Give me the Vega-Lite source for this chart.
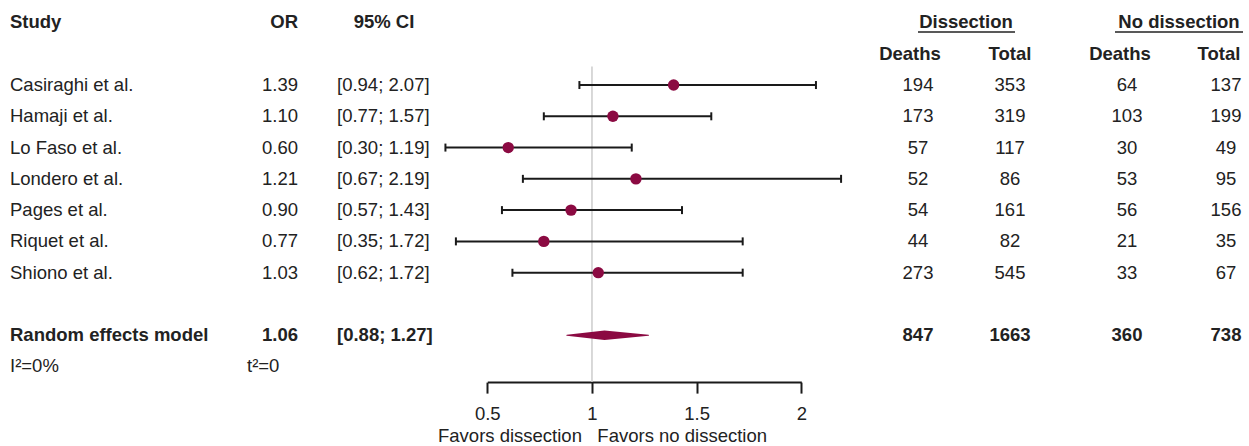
{
  "$schema": "https://vega.github.io/schema/vega-lite/v6.json",
  "width": 1249,
  "height": 382.1,
  "padding": {"left": 0, "top": 0, "right": 0, "bottom": 63.9},
  "autosize": {"type": "none"},
  "background": "white",
  "config": {
    "view": {"stroke": null},
    "text": {"font": "Liberation Sans", "fontSize": 18.5, "color": "#222222", "baseline": "middle"}
  },
  "datasets": {
    "rows": [
      {"row": "Casiraghi et al.", "kind": "study", "or": 1.39, "lo": 0.94, "hi": 2.07, "ci": "[0.94; 2.07]", "d_deaths": 194, "d_total": 353, "n_deaths": 64, "n_total": 137},
      {"row": "Hamaji et al.", "kind": "study", "or": 1.10, "lo": 0.77, "hi": 1.57, "ci": "[0.77; 1.57]", "d_deaths": 173, "d_total": 319, "n_deaths": 103, "n_total": 199},
      {"row": "Lo Faso et al.", "kind": "study", "or": 0.60, "lo": 0.30, "hi": 1.19, "ci": "[0.30; 1.19]", "d_deaths": 57, "d_total": 117, "n_deaths": 30, "n_total": 49},
      {"row": "Londero et al.", "kind": "study", "or": 1.21, "lo": 0.67, "hi": 2.19, "ci": "[0.67; 2.19]", "d_deaths": 52, "d_total": 86, "n_deaths": 53, "n_total": 95},
      {"row": "Pages et al.", "kind": "study", "or": 0.90, "lo": 0.57, "hi": 1.43, "ci": "[0.57; 1.43]", "d_deaths": 54, "d_total": 161, "n_deaths": 56, "n_total": 156},
      {"row": "Riquet et al.", "kind": "study", "or": 0.77, "lo": 0.35, "hi": 1.72, "ci": "[0.35; 1.72]", "d_deaths": 44, "d_total": 82, "n_deaths": 21, "n_total": 35},
      {"row": "Shiono et al.", "kind": "study", "or": 1.03, "lo": 0.62, "hi": 1.72, "ci": "[0.62; 1.72]", "d_deaths": 273, "d_total": 545, "n_deaths": 33, "n_total": 67},
      {"row": "Random effects model", "kind": "pooled", "or": 1.06, "lo": 0.88, "hi": 1.27, "ci": "[0.88; 1.27]", "d_deaths": 847, "d_total": 1663, "n_deaths": 360, "n_total": 738}
    ],
    "heterogeneity": [
      {"row": "heterogeneity", "i2": "I²=0%", "tau2": "t²=0"}
    ],
    "headers": [
      {"row": "h1", "column": "study", "text": "Study"},
      {"row": "h1", "column": "or", "text": "OR"},
      {"row": "h1", "column": "ci", "text": "95% CI"},
      {"row": "h1", "column": "dissection", "text": "Dissection"},
      {"row": "h1", "column": "no_dissection", "text": "No dissection"},
      {"row": "h2", "column": "dissection_deaths", "text": "Deaths"},
      {"row": "h2", "column": "dissection_total", "text": "Total"},
      {"row": "h2", "column": "no_dissection_deaths", "text": "Deaths"},
      {"row": "h2", "column": "no_dissection_total", "text": "Total"}
    ],
    "reference": [
      {"null_effect": 1}
    ]
  },
  "encoding": {
    "y": {
      "field": "row",
      "type": "nominal",
      "axis": null,
      "scale": {
        "type": "band",
        "domain": ["h1", "h2", "Casiraghi et al.", "Hamaji et al.", "Lo Faso et al.", "Londero et al.", "Pages et al.", "Riquet et al.", "Shiono et al.", "gap", "Random effects model", "heterogeneity"],
        "range": [6.865, 382.1],
        "paddingInner": 0,
        "paddingOuter": 0
      }
    }
  },
  "layer": [
    {
      "data": {"name": "reference"},
      "mark": {"type": "rule", "color": "#cccccc", "strokeWidth": 1.5},
      "encoding": {
        "x": {
          "field": "null_effect",
          "type": "quantitative",
          "scale": {"domain": [0.5, 2], "range": [487.3, 801.3], "nice": false, "zero": false},
          "axis": {
            "orient": "bottom",
            "values": [0.5, 1, 1.5, 2],
            "format": "~g",
            "labelFlush": false,
            "labelOverlap": false,
            "grid": false,
            "domainColor": "#1a1a1a",
            "domainWidth": 2,
            "tickColor": "#1a1a1a",
            "tickWidth": 2,
            "tickSize": 11,
            "labelFont": "Liberation Sans",
            "labelFontSize": 18.5,
            "labelColor": "#222222",
            "labelPadding": 11.5,
            "title": "Favors dissection\u00a0\u00a0\u00a0Favors no dissection",
            "titleFont": "Liberation Sans",
            "titleFontSize": 18.5,
            "titleFontWeight": "normal",
            "titleColor": "#222222",
            "titleAlign": "left",
            "titleAnchor": "start",
            "titleX": 437.5,
            "titleY": 53,
            "titleBaseline": "middle"
          }
        },
        "y": {"datum": "h2", "bandPosition": 0.91},
        "y2": {"datum": "heterogeneity", "bandPosition": 1}
      }
    },
    {
      "layer": [
        {
          "data": {"name": "rows"},
          "transform": [{"filter": "datum.kind === 'study'"}],
          "mark": {"type": "rule", "color": "#1a1a1a", "strokeWidth": 2},
          "encoding": {
            "x": {"field": "lo", "type": "quantitative", "scale": {"domain": [0.5, 2], "range": [487.3, 801.3], "nice": false, "zero": false}, "axis": null},
            "x2": {"field": "hi"}
          }
        },
        {
          "data": {"name": "rows"},
          "transform": [{"filter": "datum.kind === 'study'"}],
          "mark": {"type": "tick", "orient": "vertical", "size": 8, "thickness": 2, "color": "#1a1a1a", "opacity": 1},
          "encoding": {
            "x": {"field": "lo", "type": "quantitative", "axis": null}
          }
        },
        {
          "data": {"name": "rows"},
          "transform": [{"filter": "datum.kind === 'study'"}],
          "mark": {"type": "tick", "orient": "vertical", "size": 8, "thickness": 2, "color": "#1a1a1a", "opacity": 1},
          "encoding": {
            "x": {"field": "hi", "type": "quantitative", "axis": null}
          }
        },
        {
          "data": {"name": "rows"},
          "transform": [{"filter": "datum.kind === 'study'"}],
          "mark": {"type": "point", "shape": "circle", "filled": true, "size": 130, "color": "#8b0a42", "opacity": 1},
          "encoding": {
            "x": {"field": "or", "type": "quantitative", "axis": null}
          }
        },
        {
          "data": {"name": "rows"},
          "transform": [
            {"filter": "datum.kind === 'pooled'"},
            {"fold": ["lo", "or", "hi"], "as": ["vertex", "value"]}
          ],
          "mark": {"type": "trail", "color": "#8b0a42", "opacity": 1},
          "encoding": {
            "x": {"field": "value", "type": "quantitative", "axis": null},
            "size": {"field": "vertex", "type": "ordinal", "scale": {"type": "ordinal", "domain": ["lo", "or", "hi"], "range": [0, 9.5, 0]}, "legend": null},
            "order": {"field": "value", "type": "quantitative"}
          }
        }
      ]
    },
    {
      "layer": [
        {
          "data": {"name": "rows"},
          "mark": {"type": "text", "align": "left", "fontWeight": {"expr": "datum.kind === 'pooled' ? 'bold' : 'normal'"}},
          "encoding": {
            "x": {"datum": 0, "type": "quantitative", "scale": {"domain": [0, 1, 2, 3, 4, 5, 6], "range": [10, 298, 337, 918, 1010, 1127, 1226], "nice": false, "zero": false}, "axis": null},
            "text": {"field": "row", "type": "nominal"}
          }
        },
        {
          "data": {"name": "rows"},
          "mark": {"type": "text", "align": "right", "fontWeight": {"expr": "datum.kind === 'pooled' ? 'bold' : 'normal'"}},
          "encoding": {
            "x": {"datum": 1, "type": "quantitative", "axis": null},
            "text": {"field": "or", "type": "quantitative", "format": ".2f"}
          }
        },
        {
          "data": {"name": "rows"},
          "mark": {"type": "text", "align": "left", "fontWeight": {"expr": "datum.kind === 'pooled' ? 'bold' : 'normal'"}},
          "encoding": {
            "x": {"datum": 2, "type": "quantitative", "axis": null},
            "text": {"field": "ci", "type": "nominal"}
          }
        },
        {
          "data": {"name": "rows"},
          "mark": {"type": "text", "align": "center", "fontWeight": {"expr": "datum.kind === 'pooled' ? 'bold' : 'normal'"}},
          "encoding": {
            "x": {"datum": 3, "type": "quantitative", "axis": null},
            "text": {"field": "d_deaths", "type": "quantitative", "format": "d"}
          }
        },
        {
          "data": {"name": "rows"},
          "mark": {"type": "text", "align": "center", "fontWeight": {"expr": "datum.kind === 'pooled' ? 'bold' : 'normal'"}},
          "encoding": {
            "x": {"datum": 4, "type": "quantitative", "axis": null},
            "text": {"field": "d_total", "type": "quantitative", "format": "d"}
          }
        },
        {
          "data": {"name": "rows"},
          "mark": {"type": "text", "align": "center", "fontWeight": {"expr": "datum.kind === 'pooled' ? 'bold' : 'normal'"}},
          "encoding": {
            "x": {"datum": 5, "type": "quantitative", "axis": null},
            "text": {"field": "n_deaths", "type": "quantitative", "format": "d"}
          }
        },
        {
          "data": {"name": "rows"},
          "mark": {"type": "text", "align": "center", "fontWeight": {"expr": "datum.kind === 'pooled' ? 'bold' : 'normal'"}},
          "encoding": {
            "x": {"datum": 6, "type": "quantitative", "axis": null},
            "text": {"field": "n_total", "type": "quantitative", "format": "d"}
          }
        },
        {
          "data": {"name": "heterogeneity"},
          "mark": {"type": "text", "align": "left"},
          "encoding": {
            "x": {"datum": 0, "type": "quantitative", "axis": null},
            "text": {"field": "i2", "type": "nominal"}
          }
        },
        {
          "data": {"name": "heterogeneity"},
          "mark": {"type": "text", "align": "left", "dx": -51},
          "encoding": {
            "x": {"datum": 1, "type": "quantitative", "axis": null},
            "text": {"field": "tau2", "type": "nominal"}
          }
        },
        {
          "data": {"name": "headers"},
          "transform": [{"filter": "datum.column === 'study'"}],
          "mark": {"type": "text", "align": "left", "fontWeight": "bold"},
          "encoding": {"x": {"datum": 0, "type": "quantitative", "axis": null}, "text": {"field": "text", "type": "nominal"}}
        },
        {
          "data": {"name": "headers"},
          "transform": [{"filter": "datum.column === 'or'"}],
          "mark": {"type": "text", "align": "right", "fontWeight": "bold"},
          "encoding": {"x": {"datum": 1, "type": "quantitative", "axis": null}, "text": {"field": "text", "type": "nominal"}}
        },
        {
          "data": {"name": "headers"},
          "transform": [{"filter": "datum.column === 'ci'"}],
          "mark": {"type": "text", "align": "center", "fontWeight": "bold", "dx": 47},
          "encoding": {"x": {"datum": 2, "type": "quantitative", "axis": null}, "text": {"field": "text", "type": "nominal"}}
        },
        {
          "data": {"name": "headers"},
          "transform": [{"filter": "datum.column === 'dissection'"}],
          "mark": {"type": "text", "align": "center", "fontWeight": "bold", "dx": 2},
          "encoding": {"x": {"datum": 3.5, "type": "quantitative", "axis": null}, "text": {"field": "text", "type": "nominal"}}
        },
        {
          "data": {"name": "headers"},
          "transform": [{"filter": "datum.column === 'no_dissection'"}],
          "mark": {"type": "text", "align": "center", "fontWeight": "bold", "dx": 2.5},
          "encoding": {"x": {"datum": 5.5, "type": "quantitative", "axis": null}, "text": {"field": "text", "type": "nominal"}}
        },
        {
          "data": {"name": "headers"},
          "transform": [{"filter": "datum.column === 'dissection_deaths'"}],
          "mark": {"type": "text", "align": "center", "fontWeight": "bold", "dx": -8},
          "encoding": {"x": {"datum": 3, "type": "quantitative", "axis": null}, "text": {"field": "text", "type": "nominal"}}
        },
        {
          "data": {"name": "headers"},
          "transform": [{"filter": "datum.column === 'dissection_total'"}],
          "mark": {"type": "text", "align": "center", "fontWeight": "bold"},
          "encoding": {"x": {"datum": 4, "type": "quantitative", "axis": null}, "text": {"field": "text", "type": "nominal"}}
        },
        {
          "data": {"name": "headers"},
          "transform": [{"filter": "datum.column === 'no_dissection_deaths'"}],
          "mark": {"type": "text", "align": "center", "fontWeight": "bold", "dx": -7},
          "encoding": {"x": {"datum": 5, "type": "quantitative", "axis": null}, "text": {"field": "text", "type": "nominal"}}
        },
        {
          "data": {"name": "headers"},
          "transform": [{"filter": "datum.column === 'no_dissection_total'"}],
          "mark": {"type": "text", "align": "center", "fontWeight": "bold", "dx": -7},
          "encoding": {"x": {"datum": 6, "type": "quantitative", "axis": null}, "text": {"field": "text", "type": "nominal"}}
        },
        {
          "data": {"name": "headers"},
          "transform": [{"filter": "datum.column === 'dissection'"}],
          "mark": {"type": "rule", "color": "#222222", "strokeWidth": 1.5, "xOffset": -46, "x2Offset": 51},
          "encoding": {
            "x": {"datum": 3.5, "type": "quantitative", "axis": null},
            "x2": {"datum": 3.5},
            "y": {"field": "row", "type": "nominal", "bandPosition": 0.8}
          }
        },
        {
          "data": {"name": "headers"},
          "transform": [{"filter": "datum.column === 'no_dissection'"}],
          "mark": {"type": "rule", "color": "#222222", "strokeWidth": 1.5, "xOffset": -61.5, "x2Offset": 66.5},
          "encoding": {
            "x": {"datum": 5.5, "type": "quantitative", "axis": null},
            "x2": {"datum": 5.5},
            "y": {"field": "row", "type": "nominal", "bandPosition": 0.8}
          }
        }
      ]
    }
  ],
  "resolve": {"scale": {"x": "independent"}, "axis": {"x": "independent"}}
}
